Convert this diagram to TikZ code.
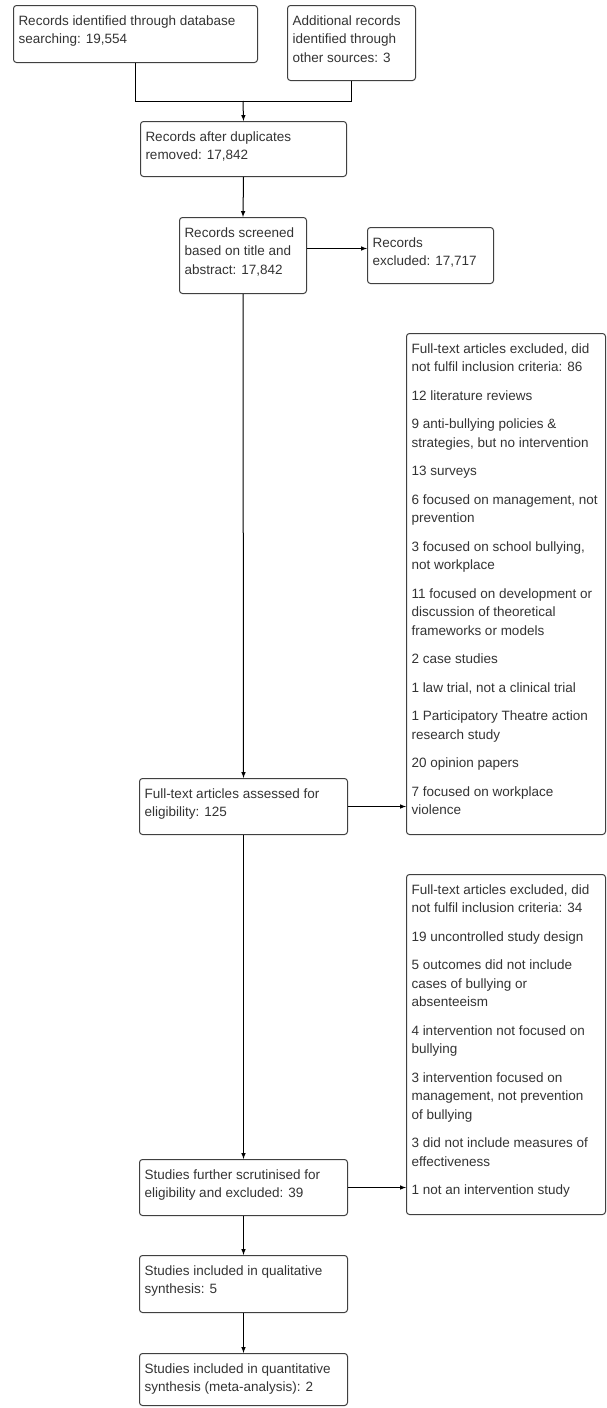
\documentclass[tikz,border=0pt]{standalone}
\usepackage{fontspec}
\setmainfont{Liberation Sans}
\usepackage{tikz}
\usetikzlibrary{calc}
\usetikzlibrary{arrows,shapes}

% box text: width, height (in px of the figure), lines
\newcommand{\boxtext}[3]{\parbox[t][\dimexpr#2pt-14pt\relax][t]{\dimexpr#1pt-10pt\relax}{\raggedright\strut#3}}

\tikzset{
  box/.style={draw=black!75, line width=1pt, rounded corners=3pt, anchor=north west,
    inner xsep=5pt, inner ysep=7pt, text=black!80, font=\fontsize{13.5}{18.5}\selectfont},
  link/.style={draw=black, line width=1pt}
}

\begin{document}
\begin{tikzpicture}[x=1pt,y=-1pt,>=latex]

  \useasboundingbox (0,0) rectangle (606,1408);

    \node[box] (ident) at (13,5) {\boxtext{244}{57}{Records identified through database\\ searching: 19,554}};
    \node[box] (other) at (287,5) {\boxtext{128}{75}{Additional records\\ identified through\\ other sources: 3}};
    \node[box] (dupl) at (140,121) {\boxtext{206}{55}{Records after duplicates\\ removed: 17,842}};
    \node[box] (screen) at (179,217) {\boxtext{127}{76}{Records screened\\ based on title and\\ abstract: 17,842}};
    \node[box] (excl) at (367,227) {\boxtext{126}{56}{Records\\ excluded: 17,717}};

    \node[box] (ftexcl) at (406,333) {\boxtext{199}{501}{Full-text articles excluded, did\\ not fulfil inclusion criteria: 86\\[10pt]
      12 literature reviews\\[10pt]
      9 anti-bullying policies \&\\ strategies, but no intervention\\[10pt]
      13 surveys\\[10pt]
      6 focused on management, not\\ prevention\\[10pt]
      3 focused on school bullying,\\ not workplace\\[10pt]
      11 focused on development or\\ discussion of theoretical\\ frameworks or models\\[10pt]
      2 case studies\\[10pt]
      1 law trial, not a clinical trial\\[10pt]
      1 Participatory Theatre action\\ research study\\[10pt]
      20 opinion papers\\[10pt]
      7 focused on workplace\\ violence}};
    \node[box] (fulltext) at (139,778) {\boxtext{208}{56}{Full-text articles assessed for\\ eligibility: 125}};

    \node[box] (stexcl) at (406,874) {\boxtext{199}{340}{Full-text articles excluded, did\\ not fulfil inclusion criteria: 34\\[10pt]
      19 uncontrolled study design\\[10pt]
      5 outcomes did not include\\ cases of bullying or\\ absenteeism\\[10pt]
      4 intervention not focused on\\ bullying\\[10pt]
      3 intervention focused on\\ management, not prevention\\ of bullying\\[10pt]
      3 did not include measures of\\ effectiveness\\[10pt]
      1 not an intervention study}};
    \node[box] (scrut) at (139,1159) {\boxtext{208}{56}{Studies further scrutinised for\\ eligibility and excluded: 39}};
    \node[box] (qual) at (139,1255) {\boxtext{208}{57}{Studies included in qualitative\\ synthesis: 5}};
    \node[box] (quant) at (139,1353) {\boxtext{208}{52}{Studies included in quantitative\\ synthesis (meta-analysis): 2}};

    \coordinate (join) at (243,101);

    \draw[link] (ident.south) |- (join);
    \draw[link] (other.south) |- (join);
    \draw[link,->] (join) -- (dupl.north);
    \draw[link,->] (dupl.south) -- (screen.north);
    \draw[link,->] ([yshift=7pt]screen.east) -- ([yshift=7pt]excl.west);
    \draw[link,->] (screen.south) -- (fulltext.north);
    \draw[link,->] (fulltext.east) -- (fulltext.east -| ftexcl.west);
    \draw[link,->] (fulltext.south) -- (scrut.north);
    \draw[link,->] (scrut.east) -- (scrut.east -| stexcl.west);
    \draw[link,->] (scrut.south) -- (qual.north);
    \draw[link,->] (qual.south) -- (quant.north);

\end{tikzpicture}
\end{document}
